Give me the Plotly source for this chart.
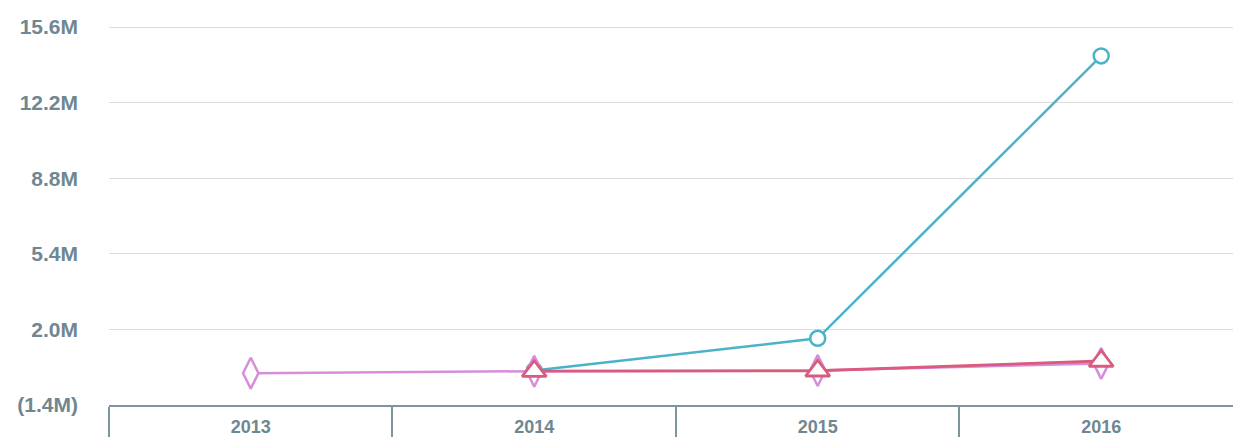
import plotly.graph_objects as go

years = ["2013", "2014", "2015", "2016"]

# values in millions
cyan_x = ["2014", "2015", "2016"]
cyan_vals = [0.15, 1.6, 14.3]

pink_x = ["2013", "2014", "2015", "2016"]
pink_vals = [0.03, 0.12, 0.15, 0.47]

red_x = ["2014", "2015", "2016"]
red_vals = [0.12, 0.14, 0.58]

y_tickvals = [-1.4, 2.0, 5.4, 8.8, 12.2, 15.6]
y_ticktext = ["(1.4M)", "2.0M", "5.4M", "8.8M", "12.2M", "15.6M"]

CYAN = "#4bb3c8"
PINK = "#d68edb"
RED = "#d95b7e"
AXIS = "#7d959e"
TEXT = "#6f8791"

fig = go.Figure()
fig.add_trace(go.Scatter(
    x=cyan_x, y=cyan_vals, mode="lines+markers",
    line=dict(color=CYAN, width=2.5),
    marker=dict(symbol="circle", size=15, color="white",
                line=dict(color=CYAN, width=2.5)),
    cliponaxis=False,
))
fig.add_trace(go.Scatter(
    x=pink_x, y=pink_vals, mode="lines+markers",
    line=dict(color=PINK, width=2.5),
    marker=dict(symbol="diamond-tall", size=22, color="white",
                line=dict(color=PINK, width=2.5)),
    cliponaxis=False,
))
fig.add_trace(go.Scatter(
    x=red_x, y=red_vals, mode="lines+markers",
    line=dict(color=RED, width=2.8),
    marker=dict(symbol="triangle-up", size=21, color="white",
                line=dict(color=RED, width=2.8)),
    cliponaxis=False,
))

fig.update_layout(
    width=1233, height=437,
    margin=dict(l=109, r=0, t=10, b=32),
    paper_bgcolor="white", plot_bgcolor="white",
    showlegend=False,
    font=dict(family="Liberation Sans, Arial, sans-serif", color=TEXT),
)
fig.update_xaxes(
    type="category", categoryorder="array", categoryarray=years,
    range=[-0.5, 3.465], automargin=False,
    showline=True, linecolor=AXIS, linewidth=2,
    ticks="outside", tickson="boundaries", ticklen=32, tickwidth=1.5, tickcolor=AXIS,
    showgrid=False, zeroline=False,
    tickfont=dict(size=18, color=TEXT, weight="bold"),
    ticklabelstandoff=4,
)
fig.update_yaxes(
    range=[-1.4, 16.365], automargin=False,
    tickvals=y_tickvals, ticktext=y_ticktext,
    showgrid=True, gridcolor="#dcdcdc", gridwidth=1,
    zeroline=False, showline=False, ticks="",
    tickfont=dict(size=21, color=TEXT, weight="bold"),
    ticklabelstandoff=30,
)

fig.write_html(
    "out.html",
    config={"displayModeBar": False},
    post_script="document.body.style.margin='0';document.body.style.overflow='hidden';",
)
